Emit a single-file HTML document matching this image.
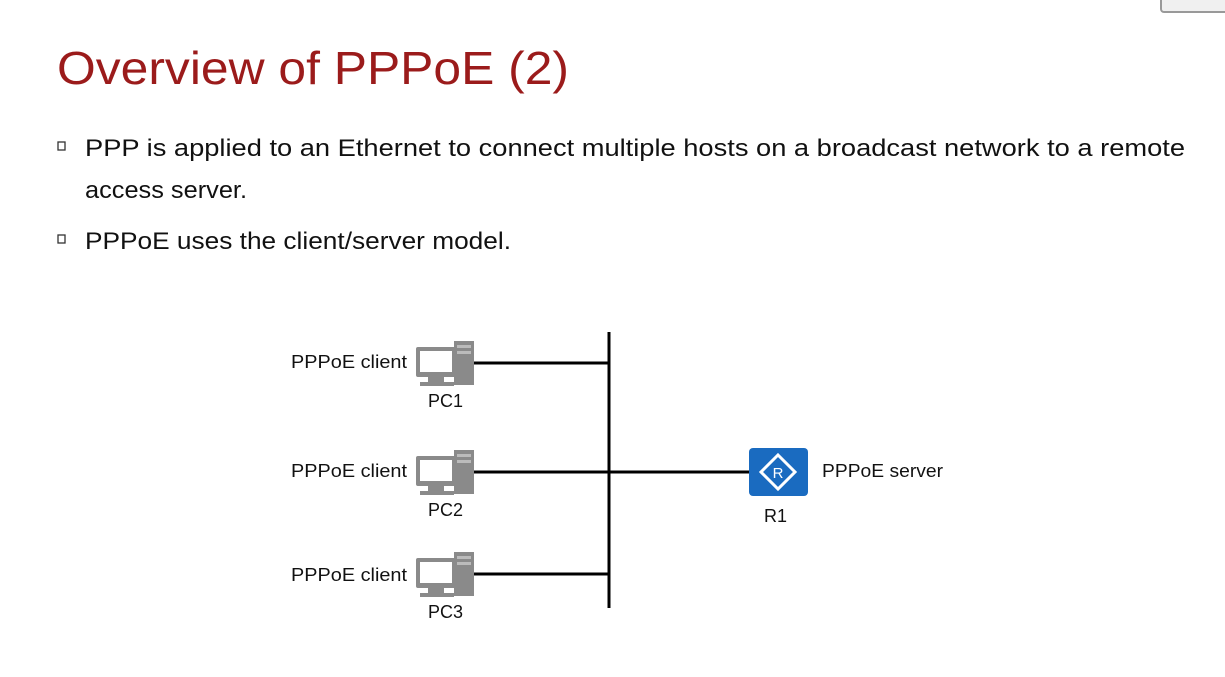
<!DOCTYPE html>
<html><head><meta charset="utf-8"><style>
html,body{margin:0;padding:0;background:#fff;}
svg{display:block;font-family:"Liberation Sans",sans-serif;}
</style></head><body>
<svg width="1225" height="677" viewBox="0 0 1225 677">
<rect x="1161" y="-4" width="70" height="16" rx="3" fill="#f0f0f0" stroke="#999" stroke-width="2"/>
<text x="57" y="84" font-size="46" fill="#9b1b1b" textLength="512" lengthAdjust="spacingAndGlyphs">Overview of PPPoE (2)</text>
<rect x="58" y="142" width="7" height="8" fill="none" stroke="#333" stroke-width="1.3"/>
<text x="85" y="156" font-size="24" fill="#111" textLength="1100" lengthAdjust="spacingAndGlyphs">PPP is applied to an Ethernet to connect multiple hosts on a broadcast network to a remote</text>
<text x="85" y="198" font-size="24" fill="#111" textLength="162" lengthAdjust="spacingAndGlyphs">access server.</text>
<rect x="58" y="235" width="7" height="8" fill="none" stroke="#333" stroke-width="1.3"/>
<text x="85" y="249" font-size="24" fill="#111" textLength="426" lengthAdjust="spacingAndGlyphs">PPPoE uses the client/server model.</text>
<g stroke="#000" stroke-width="3">
<line x1="609" y1="332" x2="609" y2="608"/>
<line x1="474" y1="363" x2="609" y2="363"/>
<line x1="474" y1="472" x2="750" y2="472"/>
<line x1="474" y1="574" x2="609" y2="574"/>
</g>
<defs>
<g id="pc">
<rect x="38" y="0" width="20" height="44" fill="#8a8a8a"/>
<rect x="41" y="4" width="14" height="3" fill="#bbb"/>
<rect x="41" y="10" width="14" height="3" fill="#bbb"/>
<rect x="0" y="6" width="40" height="30" rx="2" fill="#8a8a8a"/>
<rect x="4" y="10" width="32" height="21" fill="#fff"/>
<rect x="12" y="36" width="16" height="5" fill="#8a8a8a"/>
<rect x="4" y="41" width="34" height="4" fill="#8a8a8a"/>
</g>
</defs>
<use href="#pc" x="416" y="341"/>
<use href="#pc" x="416" y="450"/>
<use href="#pc" x="416" y="552"/>
<g font-size="18" fill="#111">
<text x="291" y="368" textLength="116" lengthAdjust="spacingAndGlyphs">PPPoE client</text>
<text x="291" y="477" textLength="116" lengthAdjust="spacingAndGlyphs">PPPoE client</text>
<text x="291" y="581" textLength="116" lengthAdjust="spacingAndGlyphs">PPPoE client</text>
<text x="428" y="407">PC1</text>
<text x="428" y="516">PC2</text>
<text x="428" y="618">PC3</text>
<text x="822" y="477" textLength="121" lengthAdjust="spacingAndGlyphs">PPPoE server</text>
<text x="764" y="522">R1</text>
</g>
<rect x="749" y="448" width="59" height="48" rx="4" fill="#1a6bc0"/>
<polygon points="778,455 795,472 778,489 761,472" fill="none" stroke="#fff" stroke-width="3"/>
<text x="778" y="478" font-size="15" fill="#fff" text-anchor="middle">R</text>
</svg>
</body></html>
